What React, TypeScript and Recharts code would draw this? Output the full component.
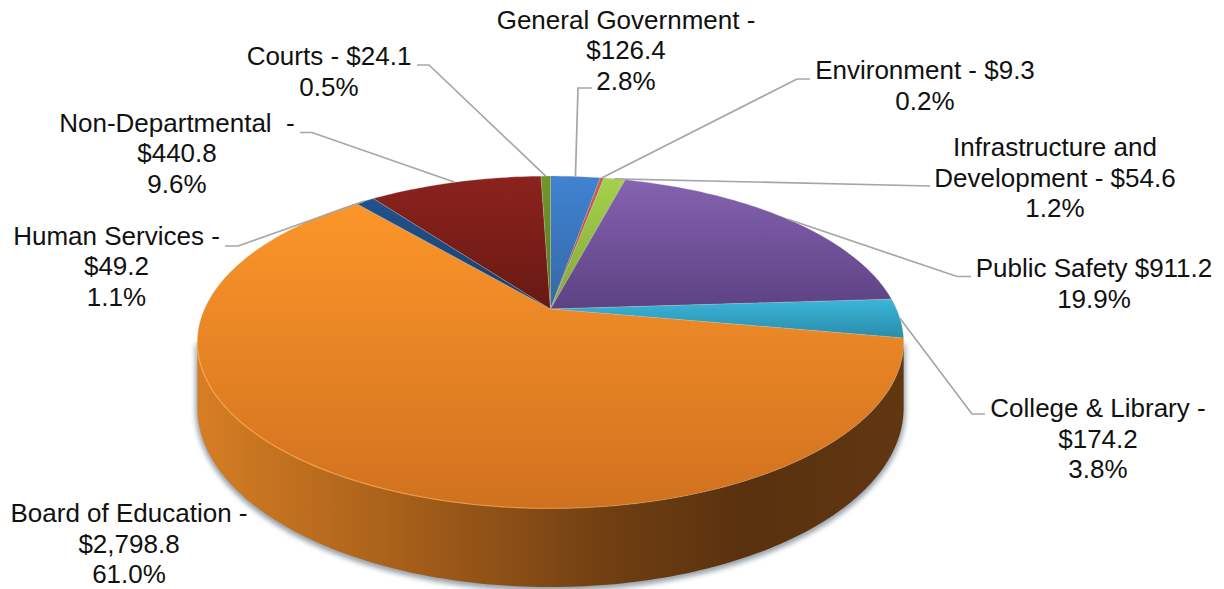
import { Pie, PieChart } from 'recharts'

const categories = [
  'General Government',
  'Environment',
  'Infrastructure and Development',
  'Public Safety',
  'College & Library',
  'Board of Education',
  'Human Services',
  'Non-Departmental',
  'Courts',
]
const amounts = [126.4, 9.3, 54.6, 911.2, 174.2, 2798.8, 49.2, 440.8, 24.1]

const labelLines = [
  ['General Government -', '$126.4', '2.8%'],
  ['Environment - $9.3', '0.2%'],
  ['Infrastructure and', 'Development - $54.6', '1.2%'],
  ['Public Safety $911.2', '19.9%'],
  ['College & Library -', '$174.2', '3.8%'],
  ['Board of Education -', '$2,798.8', '61.0%'],
  ['Human Services -', '$49.2', '1.1%'],
  ['Non-Departmental  -', '$440.8', '9.6%'],
  ['Courts - $24.1', '0.5%'],
]

// top and bottom tone of every slice face
const faceTones = [
  ['#4083d2', '#3468a6'],
  ['#cf5a50', '#a9443c'],
  ['#a5d14c', '#7fa83a'],
  ['#8662b0', '#5c4283'],
  ['#3ab6da', '#2a8cab'],
  ['#fc962a', '#d0711f'],
  ['#21528c', '#183e6c'],
  ['#8c221d', '#681913'],
  ['#73982a', '#55751c'],
]

// text centre, first baseline and leader elbow for each label
const labelSpots = [
  { x: 626, y: 28.5, elbow: [[578, 88], [592, 88]] },
  { x: 925, y: 79, elbow: [[797, 79], [810, 79]] },
  { x: 1055, y: 156, elbow: [[930, 186]] },
  { x: 1094, y: 277, elbow: [[957, 276.5], [971, 276.5]] },
  { x: 1098, y: 417, elbow: [[972, 414], [985, 414]] },
  { x: 129, y: 522, elbow: [] },
  { x: 116.5, y: 244.5, elbow: [[238, 246], [225, 246]] },
  { x: 177, y: 131.5, elbow: [[312, 132.5], [300, 132.5]] },
  { x: 329, y: 65, elbow: [[429, 65], [417, 65]] },
]

const data = categories.map((name, i) => ({ name, value: amounts[i] }))

const FONT_SIZE = 26
const LINE_GAP = 30.5

// tilted disc: the back edge shrinks with distance, the front edge grows
const TILT = 0.461
const PERSPECTIVE = 0.2
const DEPTH = 0.182
const WALL_FROM = 101.5
const WALL_TO = 258.5

const rad = (deg: number) => (deg * Math.PI) / 180

// theta runs clockwise from twelve o'clock
const rimPoint = (cx: number, cy: number, r: number, theta: number, drop = 0) => {
  const w = 1 + PERSPECTIVE * Math.cos(rad(theta))
  return {
    x: cx + (r * Math.sin(rad(theta))) / w,
    y: cy - (r * TILT * Math.cos(rad(theta))) / w + (drop * r) / w,
  }
}

const rimArc = (cx: number, cy: number, r: number, from: number, to: number, drop = 0) => {
  const steps = Math.max(2, Math.ceil(Math.abs(to - from)))
  const pts = []
  for (let i = 0; i <= steps; i++) {
    const p = rimPoint(cx, cy, r, from + ((to - from) * i) / steps, drop)
    pts.push(`${p.x.toFixed(2)} ${p.y.toFixed(2)}`)
  }
  return pts
}

const DiscSlice = (props: any) => {
  const { cx, cy, outerRadius: r, startAngle, endAngle, index } = props
  const from = 90 - startAngle
  const to = 90 - endAngle
  const face = `M${cx} ${cy}L${rimArc(cx, cy, r, from, to).join('L')}Z`
  const wallFrom = Math.max(from, WALL_FROM)
  const wallTo = Math.min(to, WALL_TO)
  const hasWall = wallTo > wallFrom
  const upper = hasWall ? rimArc(cx, cy, r, wallFrom, wallTo) : []
  const lower = hasWall ? rimArc(cx, cy, r, wallTo, wallFrom, DEPTH) : []
  const wall = `M${[...upper, ...lower].join('L')}Z`
  return (
    <g>
      {hasWall && (
        <>
          <path
            d={wall}
            fill="#76828f"
            stroke="#76828f"
            strokeWidth={4}
            opacity={0.75}
            transform="translate(0 2)"
            filter="url(#discShadow)"
          />
          <path d={wall} fill="url(#wallShade)" />
        </>
      )}
      <path d={face} fill={`url(#face${index})`} stroke="#c9c4be" strokeOpacity={0.35} strokeWidth={0.8} />
      {hasWall && (
        <path d={`M${upper.join('L')}`} fill="none" stroke="url(#rimGlow)" strokeWidth={1.2} />
      )}
    </g>
  )
}

const SliceLabel = (props: any) => {
  const { cx, cy, outerRadius: r, midAngle, index } = props
  const spot = labelSpots[index]
  const start = rimPoint(cx, cy, r, 90 - midAngle)
  const route = [[start.x, start.y], ...spot.elbow]
  return (
    <g>
      {spot.elbow.length > 0 && (
        <polyline
          points={route.map((p) => p.join(',')).join(' ')}
          fill="none"
          stroke="#a6a6a6"
          strokeWidth={1.7}
        />
      )}
      <text
        textAnchor="middle"
        fontFamily="Liberation Sans"
        fontSize={FONT_SIZE}
        fill="#111"
        style={{ whiteSpace: 'pre' }}
      >
        {labelLines[index].map((line, i) => (
          <tspan key={i} x={spot.x} y={spot.y + i * LINE_GAP}>
            {line}
          </tspan>
        ))}
      </text>
    </g>
  )
}

export default function App() {
  return (
    <div style={{ position: 'absolute', left: 0, top: 0, width: 1224, height: 589, background: '#fff' }}>
      <PieChart width={1224} height={589} margin={{ top: 0, right: 0, bottom: 0, left: 0 }}>
        <defs>
          {faceTones.map(([top, bottom], i) => (
            <linearGradient key={i} id={`face${i}`} x1="0" y1="0" x2="0" y2="1">
              <stop offset="0%" stopColor={top} />
              <stop offset="100%" stopColor={bottom} />
            </linearGradient>
          ))}
          <linearGradient id="wallShade" x1="0" y1="0" x2="1" y2="0">
            <stop offset="0%" stopColor="#d67e24" />
            <stop offset="30%" stopColor="#a55e19" />
            <stop offset="58%" stopColor="#703f12" />
            <stop offset="78%" stopColor="#59310e" />
            <stop offset="100%" stopColor="#603711" />
          </linearGradient>
          <linearGradient id="rimGlow" x1="0" y1="0" x2="1" y2="0">
            <stop offset="0%" stopColor="#fca23c" />
            <stop offset="45%" stopColor="#f79a3a" stopOpacity={0.6} />
            <stop offset="70%" stopColor="#e58a30" stopOpacity={0} />
          </linearGradient>
          <filter id="discShadow" x="-5%" y="-10%" width="110%" height="120%">
            <feGaussianBlur stdDeviation={2.5} />
          </filter>
        </defs>
        <Pie
          data={data}
          dataKey="value"
          nameKey="name"
          cx={550.5}
          cy={309}
          innerRadius={0}
          outerRadius={346}
          startAngle={90}
          endAngle={-270}
          stroke="none"
          shape={DiscSlice}
          label={SliceLabel}
          labelLine={false}
          isAnimationActive={false}
        />
      </PieChart>
    </div>
  )
}
